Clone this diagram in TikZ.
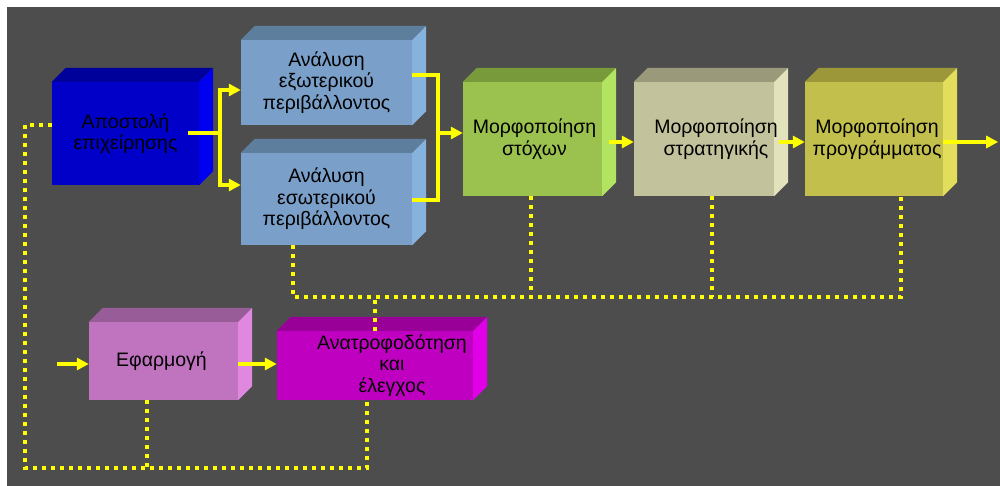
\documentclass[tikz,border=0pt]{standalone}
\usepackage{fontspec}
\setmainfont{Liberation Sans}
\usetikzlibrary{arrows.meta,calc}

% χρώματα: F = μπροστά, T = πάνω, S = πλάι
\definecolor{fonto}{HTML}{4D4D4D}
\definecolor{kitrino}{HTML}{FFFF00}
\definecolor{apoF}{HTML}{0000C8}   \definecolor{apoT}{HTML}{00009A}   \definecolor{apoS}{HTML}{0000F0}
\definecolor{anaF}{HTML}{7A9FC8}   \definecolor{anaT}{HTML}{5E7E9E}   \definecolor{anaS}{HTML}{86B2DE}
\definecolor{stoxF}{HTML}{9BC24E}  \definecolor{stoxT}{HTML}{789A3A}  \definecolor{stoxS}{HTML}{B2E462}
\definecolor{stratF}{HTML}{C2C29C} \definecolor{stratT}{HTML}{9A9A7A} \definecolor{stratS}{HTML}{E2E2BC}
\definecolor{progF}{HTML}{C3BF4C}  \definecolor{progT}{HTML}{9C983A}  \definecolor{progS}{HTML}{E2DE5C}
\definecolor{efarF}{HTML}{C074C0}  \definecolor{efarT}{HTML}{985C98}  \definecolor{efarS}{HTML}{E088E0}
\definecolor{anatF}{HTML}{C000C0}  \definecolor{anatT}{HTML}{980098}  \definecolor{anatS}{HTML}{E000E8}

\tikzset{
  kouti/.style={rectangle, inner sep=0pt, draw=none},
  keimeno/.style={align=center, text=black, inner sep=0pt, font=\fontsize{19.5}{21.5}\selectfont},
  kitrini/.style={draw=kitrino, line width=4pt},
  belos/.style={kitrini, -{Triangle[length=12pt,width=12pt]}},
  teleies/.style={draw=kitrino, line width=3.5pt, dash pattern=on 3.5pt off 5.5pt}
}

% κουτί 3Δ: όνομα, x, y, πλάτος, ύψος, χρώματα, μετατόπιση κειμένου, κείμενο
\newcommand{\kouti}[8]{%
  \node[kouti, fill=#6F, minimum width=#4pt, minimum height=#5pt] (#1) at (#2,#3) {};
  \fill[#6T] (#1.north west) -- ++(\bathos,-\bathos) -- ([shift={(\bathos,-\bathos)}]#1.north east) -- (#1.north east) -- cycle;
  \fill[#6S] (#1.north east) -- ++(\bathos,-\bathos) -- ([shift={(\bathos,-\bathos)}]#1.south east) -- (#1.south east) -- cycle;
  \node[keimeno] (#1-k) at ([xshift=#7pt]#1.center) {#8};%
}

\begin{document}
\begin{tikzpicture}[x=1pt, y=-1pt]
  % --- ΠΑΡΑΜΕΤΡΟΙ ---
  \pgfmathsetmacro{\bathos}{14}     % βάθος των κουτιών
  \pgfmathsetmacro{\grammiY}{297}   % οριζόντια διακεκομμένη πάνω
  \pgfmathsetmacro{\katoY}{468}     % οριζόντια διακεκομμένη κάτω

  % Φόντο
  \fill[white] (0,0) rectangle (1000,486);
  \fill[fonto] (7,7) rectangle (1000,486);
  \useasboundingbox (0,0) rectangle (1000,486);

  % --- ΚΟΥΤΙΑ ---
  \kouti{apo}{125.5}{133.5}{147}{103}{apo}{0}{Αποστολή\\επιχείρησης}
  \kouti{exo}{326.5}{82.5}{171}{85}{ana}{0}{Ανάλυση\\εξωτερικού\\περιβάλλοντος}
  \kouti{eso}{326.5}{199}{171}{92}{ana}{0}{Ανάλυση\\εσωτερικού\\περιβάλλοντος}
  \kouti{stox}{532.5}{139}{139}{114}{stox}{2}{Μορφοποίηση\\στόχων}
  \kouti{strat}{704}{139}{140}{114}{strat}{12}{Μορφοποίηση\\στρατηγικής}
  \kouti{prog}{874}{139}{138}{114}{prog}{3}{Μορφοποίηση\\προγράμματος}
  \kouti{efar}{163.5}{361}{149}{78}{efar}{-2}{Εφαρμογή}
  \kouti{anat}{375}{365.5}{196}{69}{anat}{17}{Ανατροφοδότηση\\και\\έλεγχος}

  % --- ΒΕΛΗ ---
  \coordinate (dia) at ($(apo.east)+(21,0)$);
  \draw[kitrini] ($(apo.east)+(-11,0)$) -- (dia);
  \draw[belos] (dia) |- ($(exo.west)+(0,7.5)$);
  \draw[belos] (dia) |- ($(eso.west)+(0,-14)$);

  \coordinate (syn) at ($(exo.east)+(26,-7.5)$);
  \coordinate (stoxin) at ($(stox.west)+(0,-6)$);
  \draw[kitrini] ($(exo.east)+(0,-7.5)$) -- (syn) |- ($(eso.east)+(0,1)$);
  \draw[belos] (syn |- stoxin) -- (stoxin);

  \draw[belos] ($(stox.east)+(7,3)$) -- ($(strat.west)+(0,3)$);
  \draw[belos] ($(strat.east)+(5,3)$) -- ($(prog.west)+(0,3)$);
  \coordinate (exodos) at ($(prog.east)+(55,3)$);
  \draw[belos] ($(prog.east)+(0,3)$) -- (exodos);

  \coordinate (eisodos) at ($(efar.west)+(-32,3)$);
  \draw[belos] (eisodos) -- ($(efar.west)+(0,3)$);
  \draw[belos] ($(efar.east)+(0,3)$) -- ($(anat.west)+(0,-1.5)$);

  % --- ΑΝΑΔΡΑΣΗ (διακεκομμένες) ---
  \coordinate (grammi) at (0,\grammiY);
  \coordinate (esoK) at ($(eso.south)+(-33.5,0)$);
  \coordinate (progK) at ($(prog.south)+(27,0)$);
  \coordinate (stoxK) at ($(stox.south)+(-1.5,0)$);
  \coordinate (stratK) at ($(strat.south)+(8,0)$);
  \draw[teleies] (esoK) -- (esoK |- grammi) -- (progK |- grammi) -- (progK);
  \draw[teleies] (stoxK) -- (stoxK |- grammi);
  \draw[teleies] (stratK) -- (stratK |- grammi);
  \draw[teleies] (anat.north) -- (anat.north |- grammi);

  \coordinate (kato) at (25,\katoY);
  \coordinate (efarK) at ($(efar.south)+(-16.5,0)$);
  \draw[teleies] ($(apo.west)+(0,-8.5)$) -| (kato) -| ($(anat.south)+(-8,0)$);
  \draw[teleies] (efarK) -- (efarK |- kato);
\end{tikzpicture}
\end{document}
